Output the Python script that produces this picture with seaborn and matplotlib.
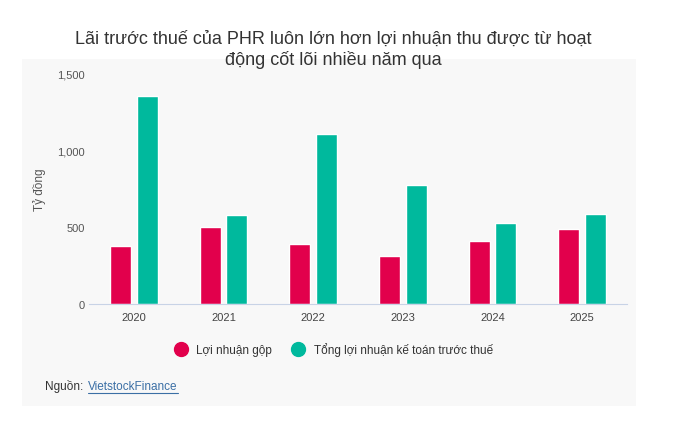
import matplotlib
matplotlib.use("Agg")
import matplotlib.pyplot as plt
from matplotlib.patches import Rectangle
from matplotlib.lines import Line2D
import pandas as pd
import seaborn as sns

# data (tỷ đồng)
years = ["2020", "2021", "2022", "2023", "2024", "2025"]
gross_profit = [380, 502, 391, 315, 413, 491]
pretax_profit = [1357, 583, 1109, 778, 530, 589]
series_names = ["Lợi nhuận gộp", "Tổng lợi nhuận kế toán trước thuế"]
colors = ["#e2004c", "#00b99d"]

df = pd.DataFrame({
    "year": years * 2,
    "value": gross_profit + pretax_profit,
    "series": [series_names[0]] * len(years) + [series_names[1]] * len(years),
})

sns.set_style("white")
plt.rcParams["font.family"] = ["Liberation Sans", "DejaVu Sans"]

fig = plt.figure(figsize=(6.75, 4.27), dpi=100)
fig.patch.set_facecolor("white")
panel_bg = "#f8f8f8"
fig.add_artist(Rectangle((22 / 675, 1 - 407 / 427), 614 / 675, 347 / 427,
                         transform=fig.transFigure, facecolor=panel_bg,
                         edgecolor="none", zorder=-10))

ax = fig.add_axes([89 / 675, 1 - 305 / 427, 538 / 675, 230 / 427])
ax.set_facecolor(panel_bg)
sns.barplot(ax=ax, data=df, x="year", y="value", hue="series",
            palette=colors, width=0.6, gap=0.22, saturation=1, legend=False)

ax.set_ylim(0, 1500)
ax.set_yticks([0, 500, 1000, 1500])
ax.set_yticklabels(["0", "500", "1,000", "1,500"])
ax.set_xlabel("")
ax.set_ylabel("Tỷ đồng", fontsize=8.5, color="#555555", labelpad=8)
for s in ["top", "right", "left"]:
    ax.spines[s].set_visible(False)
ax.spines["bottom"].set_color("#c8d3e6")
ax.tick_params(axis="y", length=0, labelsize=8, labelcolor="#555555", pad=3)
ax.tick_params(axis="x", direction="in", length=10, color="#e0e0e0",
               labelsize=8, labelcolor="#444444", pad=6)

fig.suptitle("Lãi trước thuế của PHR luôn lớn hơn lợi nhuận thu được từ hoạt\nđộng cốt lõi nhiều năm qua",
             x=333 / 675, y=1 - 31 / 427, fontsize=13, color="#333333",
             linespacing=1.2, va="top")

handles = [Line2D([], [], marker="o", linestyle="none", markersize=10,
                  markerfacecolor=c, markeredgecolor=c) for c in colors]
fig.legend(handles, series_names, loc="center", bbox_to_anchor=(331 / 675, 1 - 350 / 427),
           ncol=2, frameon=False, fontsize=8.5, handletextpad=0.3, columnspacing=1.2,
           labelcolor="#333333")

fig.text(45 / 675, 1 - 387 / 427, "Nguồn: ", fontsize=8.5, color="#333333", va="center")
link = fig.text(88 / 675, 1 - 387 / 427, "VietstockFinance", fontsize=8.5,
                color="#3b6fa5", va="center")
fig.canvas.draw()
bb = link.get_window_extent()
fig.add_artist(Line2D([bb.x0 / 675, bb.x1 / 675], [(bb.y0 - 0.5) / 427] * 2,
                      transform=fig.transFigure, color="#3b6fa5", linewidth=0.8))

fig.savefig("out.png", dpi=100)
